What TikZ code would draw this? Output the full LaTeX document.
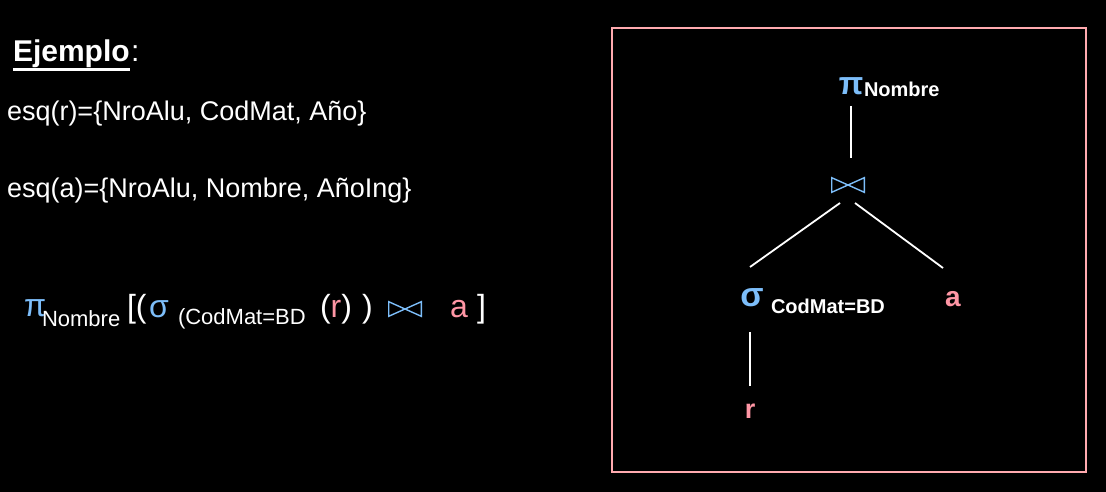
\documentclass[tikz,border=0pt]{standalone}
\usepackage{fontspec}
\setmainfont{Liberation Sans}
\usetikzlibrary{calc}
\definecolor{lblue}{RGB}{125,190,250}
\definecolor{lpink}{RGB}{255,150,165}
\definecolor{boxpink}{RGB}{255,170,175}
\newcommand{\fs}[1]{\fontsize{#1}{#1}\selectfont}
\newcommand{\mybowtie}{\tikz[x=1pt,y=1pt,baseline=0pt]{\draw[lblue,line width=1.4pt,line join=miter] (0.7,0.7)--(0.7,15.3)--(17,8)--cycle (33.3,0.7)--(33.3,15.3)--(17,8)--cycle;}}
\tikzset{
  txt/.style={text=white, inner sep=0, outer sep=0, anchor=base west},
  edge/.style={draw=white, line width=1.8pt},
  tnode/.style={inner sep=0, outer sep=0}
}
\begin{document}
\begin{tikzpicture}[x=1pt,y=-1pt]
\fill[black] (0,0) rectangle (1106,492);
\useasboundingbox (0,0) rectangle (1106,492);
% left text
\node[txt] (ej) at (13,62) {\fs{30}\bfseries Ejemplo};
\node[txt] (ejc) at (131,62) {\fs{30}:};
\draw[white, line width=2.6pt] ($(ej.base west)+(0,7.5)$) -- ($(ej.base east)+(0,7.5)$);
\node[txt] (esqr) at (7,121) {\fs{27}esq(r)=\{NroAlu, CodMat, Año\}};
\node[txt] (esqa) at (7,197) {\fs{27}esq(a)=\{NroAlu, Nombre, AñoIng\}};
% formula
\node[txt, text=lblue] (f1) at (24,316) {\fs{32}π};
\node[txt] (f2) at (42,326) {\fs{22}Nombre};
\node[txt] (f3) at (127,317) {\fs{32}[(};
\node[txt, text=lblue] (f4) at (149,317) {\fs{32}σ};
\node[txt] (f5) at (178,324) {\fs{22}(CodMat=BD};
\node[txt] (f6) at (320,317) {\fs{32}(\textcolor{lpink}{r})};
\node[txt] (f7) at (362,317) {\fs{32})};
\node[txt] (f8) at (388,317) {\mybowtie};
\node[txt, text=lpink] (f9) at (450,317) {\fs{32}a};
\node[txt] (f10) at (477,317) {\fs{32}]};
% box
\draw[boxpink, line width=1.5pt] (612,28) rectangle (1086,472);
% tree
\node[tnode, text=lblue, minimum height=40pt] (tpi) at (851,86) {\fs{32}\bfseries π};
\node[txt] (tpisub) at (864,97) {\fs{20}\bfseries Nombre};
\node[tnode, minimum height=36pt] (tjoin) at (848,185) {\mybowtie};
\node[tnode, text=lblue, minimum height=50pt] (tsel) at (752,298) {\fs{34}\bfseries σ};
\node[txt] (tselsub) at (771,313) {\fs{20}\bfseries CodMat=BD};
\node[tnode, text=lpink, minimum height=62pt] (ta) at (953,299) {\fs{28}\bfseries a};
\node[tnode, text=lpink, minimum height=50pt] (tr) at (750,411) {\fs{27}\bfseries r};
\draw[edge] (tpi.south) -- ($(tjoin.north)+(3,-9)$);
\draw[edge] ($(tjoin.south)+(-8,0)$) -- ($(tsel.north)+(-2,-6)$);
\draw[edge] ($(tjoin.south)+(7,0)$) -- ($(ta.north)+(-10,0)$);
\draw[edge] ($(tsel.south)+(-2,9)$) -- (tr.north);
\end{tikzpicture}
\end{document}
